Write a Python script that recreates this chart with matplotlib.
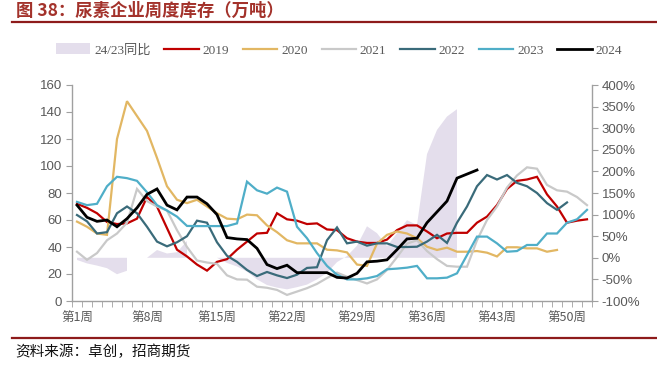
import numpy as np
import matplotlib
matplotlib.use("Agg")
import matplotlib.pyplot as plt
from matplotlib.font_manager import FontProperties
from matplotlib.lines import Line2D
from matplotlib.patches import Patch

plt.rcParams["font.family"] = ["Liberation Sans", "Noto Sans CJK SC"]

nan = np.nan
weeks = np.arange(1, 53)

# 周度库存（万吨），缺失周为 nan
inv_2019 = [72, 69, 65, 58.5, 57, 57.5, 61, 77, 70, 54, 38, 33, 27, 22.5, 29, 31, 38, 44, 50, 50.5,
            65, 60.5, 59.5, 57, 57.5, 53, 52.5, 46.5, 44, 43, 43, 45.5, 52.5, 56, 56, 51.5, 46.5, 50, 50.5, 50.5,
            58, 62.5, 71, 83, 89, 90, 92, 79, 70, 58, 59.5, 60.5]
inv_2020 = [58.8, 55, 50, 49, 120, 148, 137, 126, 106, 85, 75, 72.5, 75, 70, 65, 61, 60.5, 64, 63.5, 56,
            51, 45, 42.7, 42.7, 42.7, 38, 37.5, 36, 27, 26, 42.5, 49, 51.5, 50, 46.5, 40.2, 37.8, 39.5, 36.5, 36.5,
            37, 35.8, 33, 39.8, 39.8, 39, 39, 36.5, 37.8]
inv_2021 = [36.5, 30.5, 35.5, 45, 50, 58, 83, 74, 70, 67, 52.5, 40, 30, 28.5, 27.5, 19, 16, 15.8, 10.6, 9.8,
            8.2, 4.5, 7, 9.5, 12.7, 17, 21, 18, 15.5, 13, 16, 23, 32.5, 42.5, 45, 37, 31, 26, 25.4, 25.4,
            45, 60, 70, 84, 93, 99, 98, 86, 82, 81, 77, 71]
inv_2022 = [63.7, 59, 50, 51, 65, 70, 65, 55, 44, 40.5, 43.5, 48, 59.5, 58, 43.5, 33.5, 29, 23, 18.5, 21.5,
            19, 17, 19.5, 24.5, 25, 45, 54.5, 42.7, 44, 41, 42.7, 42.7, 40, 40, 40.2, 44, 49, 43, 58, 70,
            85, 93.3, 90, 93.3, 87.5, 85, 80, 72.5, 67.5, 73]
inv_2023 = [73.4, 71, 72, 85, 92, 91, 89, 80.5, 71, 67, 62.5, 55.6, 55.5, 55.5, 55.5, 55.5, 57.5, 88.4, 82, 79.5,
            84, 81, 55, 46.5, 35.5, 26, 19.5, 16, 16, 16.8, 18.5, 23.5, 24, 24.7, 26, 16.8, 16.8, 17.3, 20.5, 34,
            47.7, 47.7, 42.7, 36.5, 37, 41.5, 41.5, 50, 50, 58, 60.5, 67.5]
inv_2024 = [71, 62, 59, 60, 55, 61, 69, 79, 83, 71, 67.5, 77, 77, 72, 64, 47, 46, 45.5, 39, 27,
            24, 26.5, 21, 21, 21, 21, 17.5, 17, 20.5, 29, 29.5, 30.5, 38, 46, 46.5, 58, 66, 74, 91, 94,
            97]
# 24/23同比（%）
yoy_24_23 = [-5, -13, -18, -24, -38, -30, nan, 0, 18, 10, 13, 39, nan, nan, 0, -12, -20, -32, -50, -63,
             -69, -73, -68, -62, -50, -35, -10, 4, 28, 73, 57, 27, 57, 87, 76, 240, 296, 327, 344]

series_names = ["2019", "2020", "2021", "2022", "2023", "2024"]
series_colors = ["#C00000", "#E2B763", "#C9C9C9", "#3A6B7A", "#4FAEC8", "#000000"]
series_widths = [1.6, 1.6, 1.6, 1.6, 1.6, 2.0]
x_tick_weeks = [1, 8, 15, 22, 29, 36, 43, 50]
x_tick_labels = ["第%d周" % w for w in x_tick_weeks]


def pad(values):
    out = np.full(len(weeks), nan)
    out[:len(values)] = values
    return out


axis_gray = "#A0A0A0"
text_gray = "#595959"
brand_red = "#8E1B1B"

fig = plt.figure(figsize=(6.57, 3.65), dpi=100)
ax1 = fig.add_axes([72 / 657, 1 - 301 / 365, 520 / 657, 216 / 365])
ax2 = ax1.twinx()

# 同比面积放在右轴，画在折线后面
ax2.fill_between(weeks, 0, pad(yoy_24_23), color="#E4DEEC", linewidth=0)
ax2.set_ylim(-100, 400)
ax2.set_yticks(np.arange(-100, 401, 50))
ax2.set_yticklabels(["%d%%" % v for v in np.arange(-100, 401, 50)])

all_series = [inv_2019, inv_2020, inv_2021, inv_2022, inv_2023, inv_2024]
for name, vals, c, lw in zip(series_names, all_series, series_colors, series_widths):
    ax1.plot(weeks, pad(vals), color=c, linewidth=lw, label=name, solid_joinstyle="miter")

ax1.set_zorder(ax2.get_zorder() + 1)
ax1.patch.set_visible(False)

ax1.set_xlim(0.5, 52.5)
ax1.set_ylim(0, 160)
ax1.set_yticks(np.arange(0, 161, 20))
ax1.set_xticks(x_tick_weeks)
ax1.set_xticklabels(x_tick_labels, fontsize=9, color=text_gray, family=["Noto Sans CJK SC"])
ax1.set_xticks(np.arange(0.5, 53, 1), minor=True)
ax1.tick_params(axis="x", which="major", length=0, pad=8)
ax1.tick_params(axis="x", which="minor", length=4, color=axis_gray, direction="out")
ax1.tick_params(axis="y", length=4, color=axis_gray, labelcolor=text_gray, labelsize=9.5, pad=3)
ax2.tick_params(axis="y", length=4, color=axis_gray, labelcolor=text_gray, labelsize=9.5, pad=3)

for ax in (ax1, ax2):
    ax.spines["top"].set_visible(False)
    for s in ax.spines.values():
        s.set_color(axis_gray)
        s.set_linewidth(1.0)
ax1.spines["right"].set_visible(False)
ax2.spines["left"].set_visible(False)
ax2.spines["bottom"].set_visible(False)

# 图例
handles = [Patch(facecolor="#E4DEEC", edgecolor="none")]
handles += [Line2D([], [], color=c, linewidth=lw) for c, lw in zip(series_colors, series_widths)]
labels = ["24/23同比"] + series_names
leg_font = FontProperties(family=["Liberation Serif", "Noto Sans CJK SC"], size=9.5)
fig.legend(handles, labels, loc="center", bbox_to_anchor=(339 / 657, 1 - 50 / 365), ncol=7,
           frameon=False, prop=leg_font, labelcolor=text_gray, handlelength=2.6,
           handleheight=0.9, handletextpad=0.3, columnspacing=1.05)

# 标题、分隔线、来源
fig.text(16 / 657, 1 - 11 / 365, "图 38：尿素企业周度库存（万吨）", fontsize=12.5, fontweight="bold",
         color="#A3322B", va="center", family=["Noto Sans CJK SC"])
fig.add_artist(Line2D([12 / 657, 1], [1 - 22 / 365] * 2, color=brand_red, linewidth=1.6,
                      transform=fig.transFigure))
fig.add_artist(Line2D([12 / 657, 1], [1 - 338 / 365] * 2, color=brand_red, linewidth=1.6,
                      transform=fig.transFigure))
fig.text(15 / 657, 1 - 352 / 365, "资料来源：卓创，招商期货", fontsize=10.5, color="#111111", va="center",
         family=["Noto Sans CJK SC"])

fig.savefig("out.png", dpi=100)
